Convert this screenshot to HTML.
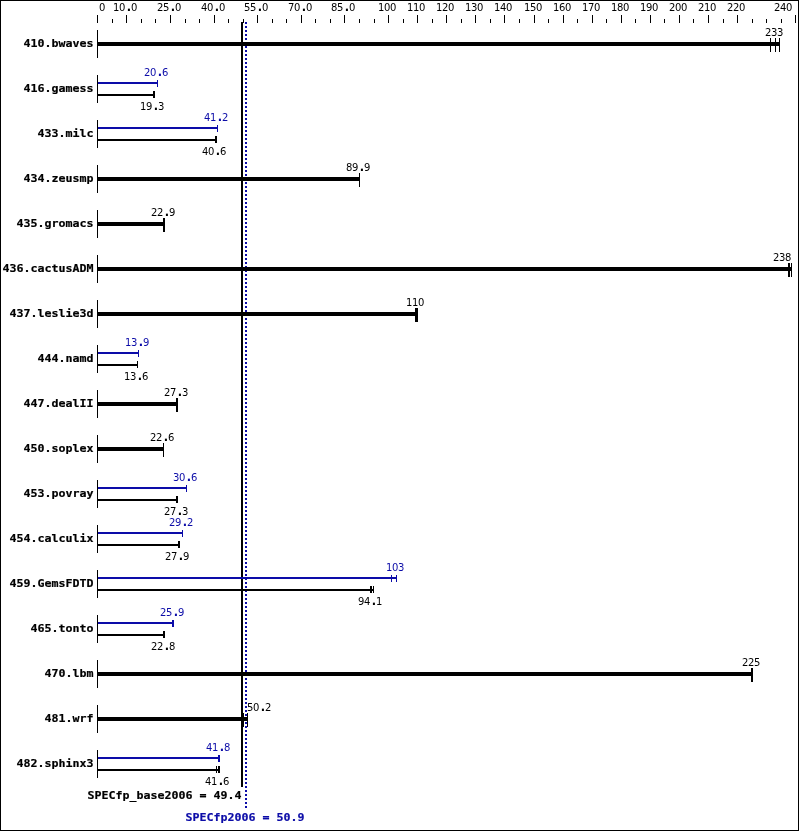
<!DOCTYPE html>
<html><head><meta charset="utf-8"><title>SPECfp2006 results graph</title>
<style>
html,body{margin:0;padding:0;background:#fff}
svg{display:block}
text{fill:#000;white-space:pre}
text.s{font-family:"DejaVu Sans","Liberation Sans",sans-serif;font-size:10px}
tspan.d{font-weight:bold;font-size:11.4px}
text.b{font-family:"DejaVu Sans Mono","Liberation Mono",monospace;font-size:11px;font-weight:bold;stroke:#000;stroke-width:.2px}
rect{shape-rendering:crispEdges}
</style></head><body>
<svg width="799" height="831" viewBox="0 0 799 831">
<rect x="0" y="0" width="799" height="831" fill="#fff"/>
<rect x="0" y="0" width="799" height="1" fill="#000"/>
<rect x="0" y="830" width="799" height="1" fill="#000"/>
<rect x="0" y="0" width="1" height="831" fill="#000"/>
<rect x="798" y="0" width="1" height="831" fill="#000"/>
<rect x="97" y="15" width="1" height="8" fill="#000"/>
<rect x="112" y="19" width="1" height="4" fill="#000"/>
<rect x="126" y="15" width="1" height="8" fill="#000"/>
<rect x="141" y="19" width="1" height="4" fill="#000"/>
<rect x="155" y="19" width="1" height="4" fill="#000"/>
<rect x="170" y="15" width="1" height="8" fill="#000"/>
<rect x="185" y="19" width="1" height="4" fill="#000"/>
<rect x="199" y="19" width="1" height="4" fill="#000"/>
<rect x="214" y="15" width="1" height="8" fill="#000"/>
<rect x="228" y="19" width="1" height="4" fill="#000"/>
<rect x="243" y="19" width="1" height="4" fill="#000"/>
<rect x="257" y="15" width="1" height="8" fill="#000"/>
<rect x="272" y="19" width="1" height="4" fill="#000"/>
<rect x="286" y="19" width="1" height="4" fill="#000"/>
<rect x="301" y="15" width="1" height="8" fill="#000"/>
<rect x="315" y="19" width="1" height="4" fill="#000"/>
<rect x="330" y="19" width="1" height="4" fill="#000"/>
<rect x="344" y="15" width="1" height="8" fill="#000"/>
<rect x="359" y="19" width="1" height="4" fill="#000"/>
<rect x="374" y="19" width="1" height="4" fill="#000"/>
<rect x="388" y="15" width="1" height="8" fill="#000"/>
<rect x="403" y="19" width="1" height="4" fill="#000"/>
<rect x="417" y="15" width="1" height="8" fill="#000"/>
<rect x="432" y="19" width="1" height="4" fill="#000"/>
<rect x="446" y="15" width="1" height="8" fill="#000"/>
<rect x="461" y="19" width="1" height="4" fill="#000"/>
<rect x="475" y="15" width="1" height="8" fill="#000"/>
<rect x="490" y="19" width="1" height="4" fill="#000"/>
<rect x="504" y="15" width="1" height="8" fill="#000"/>
<rect x="519" y="19" width="1" height="4" fill="#000"/>
<rect x="534" y="15" width="1" height="8" fill="#000"/>
<rect x="548" y="19" width="1" height="4" fill="#000"/>
<rect x="563" y="15" width="1" height="8" fill="#000"/>
<rect x="577" y="19" width="1" height="4" fill="#000"/>
<rect x="592" y="15" width="1" height="8" fill="#000"/>
<rect x="606" y="19" width="1" height="4" fill="#000"/>
<rect x="621" y="15" width="1" height="8" fill="#000"/>
<rect x="635" y="19" width="1" height="4" fill="#000"/>
<rect x="650" y="15" width="1" height="8" fill="#000"/>
<rect x="664" y="19" width="1" height="4" fill="#000"/>
<rect x="679" y="15" width="1" height="8" fill="#000"/>
<rect x="693" y="19" width="1" height="4" fill="#000"/>
<rect x="708" y="15" width="1" height="8" fill="#000"/>
<rect x="723" y="19" width="1" height="4" fill="#000"/>
<rect x="737" y="15" width="1" height="8" fill="#000"/>
<rect x="752" y="19" width="1" height="4" fill="#000"/>
<rect x="766" y="19" width="1" height="4" fill="#000"/>
<rect x="781" y="19" width="1" height="4" fill="#000"/>
<rect x="795" y="15" width="1" height="8" fill="#000"/>
<text class="s" x="99" y="11">0</text>
<text class="s" x="113 119 126.84 131" y="11">10<tspan class="d">.</tspan>0</text>
<text class="s" x="157 163 170.84 175" y="11">25<tspan class="d">.</tspan>0</text>
<text class="s" x="201 207 214.84 219" y="11">40<tspan class="d">.</tspan>0</text>
<text class="s" x="244 250 257.84 262" y="11">55<tspan class="d">.</tspan>0</text>
<text class="s" x="288 294 301.84 306" y="11">70<tspan class="d">.</tspan>0</text>
<text class="s" x="331 337 344.84 349" y="11">85<tspan class="d">.</tspan>0</text>
<text class="s" x="378 384 390" y="11">100</text>
<text class="s" x="407 413 419" y="11">110</text>
<text class="s" x="436 442 448" y="11">120</text>
<text class="s" x="465 471 477" y="11">130</text>
<text class="s" x="494 500 506" y="11">140</text>
<text class="s" x="524 530 536" y="11">150</text>
<text class="s" x="553 559 565" y="11">160</text>
<text class="s" x="582 588 594" y="11">170</text>
<text class="s" x="611 617 623" y="11">180</text>
<text class="s" x="640 646 652" y="11">190</text>
<text class="s" x="669 675 681" y="11">200</text>
<text class="s" x="698 704 710" y="11">210</text>
<text class="s" x="727 733 739" y="11">220</text>
<text class="s" x="774 780 786" y="11">240</text>
<rect x="245" y="22" width="2" height="2" fill="#0c0ca8"/>
<rect x="245" y="26" width="2" height="2" fill="#0c0ca8"/>
<rect x="245" y="30" width="2" height="2" fill="#0c0ca8"/>
<rect x="245" y="34" width="2" height="2" fill="#0c0ca8"/>
<rect x="245" y="38" width="2" height="2" fill="#0c0ca8"/>
<rect x="245" y="42" width="2" height="2" fill="#0c0ca8"/>
<rect x="245" y="46" width="2" height="2" fill="#0c0ca8"/>
<rect x="245" y="50" width="2" height="2" fill="#0c0ca8"/>
<rect x="245" y="54" width="2" height="2" fill="#0c0ca8"/>
<rect x="245" y="58" width="2" height="2" fill="#0c0ca8"/>
<rect x="245" y="62" width="2" height="2" fill="#0c0ca8"/>
<rect x="245" y="66" width="2" height="2" fill="#0c0ca8"/>
<rect x="245" y="70" width="2" height="2" fill="#0c0ca8"/>
<rect x="245" y="74" width="2" height="2" fill="#0c0ca8"/>
<rect x="245" y="78" width="2" height="2" fill="#0c0ca8"/>
<rect x="245" y="82" width="2" height="2" fill="#0c0ca8"/>
<rect x="245" y="86" width="2" height="2" fill="#0c0ca8"/>
<rect x="245" y="90" width="2" height="2" fill="#0c0ca8"/>
<rect x="245" y="94" width="2" height="2" fill="#0c0ca8"/>
<rect x="245" y="98" width="2" height="2" fill="#0c0ca8"/>
<rect x="245" y="102" width="2" height="2" fill="#0c0ca8"/>
<rect x="245" y="106" width="2" height="2" fill="#0c0ca8"/>
<rect x="245" y="110" width="2" height="2" fill="#0c0ca8"/>
<rect x="245" y="114" width="2" height="2" fill="#0c0ca8"/>
<rect x="245" y="118" width="2" height="2" fill="#0c0ca8"/>
<rect x="245" y="122" width="2" height="2" fill="#0c0ca8"/>
<rect x="245" y="126" width="2" height="2" fill="#0c0ca8"/>
<rect x="245" y="130" width="2" height="2" fill="#0c0ca8"/>
<rect x="245" y="134" width="2" height="2" fill="#0c0ca8"/>
<rect x="245" y="138" width="2" height="2" fill="#0c0ca8"/>
<rect x="245" y="142" width="2" height="2" fill="#0c0ca8"/>
<rect x="245" y="146" width="2" height="2" fill="#0c0ca8"/>
<rect x="245" y="150" width="2" height="2" fill="#0c0ca8"/>
<rect x="245" y="154" width="2" height="2" fill="#0c0ca8"/>
<rect x="245" y="158" width="2" height="2" fill="#0c0ca8"/>
<rect x="245" y="162" width="2" height="2" fill="#0c0ca8"/>
<rect x="245" y="166" width="2" height="2" fill="#0c0ca8"/>
<rect x="245" y="170" width="2" height="2" fill="#0c0ca8"/>
<rect x="245" y="174" width="2" height="2" fill="#0c0ca8"/>
<rect x="245" y="178" width="2" height="2" fill="#0c0ca8"/>
<rect x="245" y="182" width="2" height="2" fill="#0c0ca8"/>
<rect x="245" y="186" width="2" height="2" fill="#0c0ca8"/>
<rect x="245" y="190" width="2" height="2" fill="#0c0ca8"/>
<rect x="245" y="194" width="2" height="2" fill="#0c0ca8"/>
<rect x="245" y="198" width="2" height="2" fill="#0c0ca8"/>
<rect x="245" y="202" width="2" height="2" fill="#0c0ca8"/>
<rect x="245" y="206" width="2" height="2" fill="#0c0ca8"/>
<rect x="245" y="210" width="2" height="2" fill="#0c0ca8"/>
<rect x="245" y="214" width="2" height="2" fill="#0c0ca8"/>
<rect x="245" y="218" width="2" height="2" fill="#0c0ca8"/>
<rect x="245" y="222" width="2" height="2" fill="#0c0ca8"/>
<rect x="245" y="226" width="2" height="2" fill="#0c0ca8"/>
<rect x="245" y="230" width="2" height="2" fill="#0c0ca8"/>
<rect x="245" y="234" width="2" height="2" fill="#0c0ca8"/>
<rect x="245" y="238" width="2" height="2" fill="#0c0ca8"/>
<rect x="245" y="242" width="2" height="2" fill="#0c0ca8"/>
<rect x="245" y="246" width="2" height="2" fill="#0c0ca8"/>
<rect x="245" y="250" width="2" height="2" fill="#0c0ca8"/>
<rect x="245" y="254" width="2" height="2" fill="#0c0ca8"/>
<rect x="245" y="258" width="2" height="2" fill="#0c0ca8"/>
<rect x="245" y="262" width="2" height="2" fill="#0c0ca8"/>
<rect x="245" y="266" width="2" height="2" fill="#0c0ca8"/>
<rect x="245" y="270" width="2" height="2" fill="#0c0ca8"/>
<rect x="245" y="274" width="2" height="2" fill="#0c0ca8"/>
<rect x="245" y="278" width="2" height="2" fill="#0c0ca8"/>
<rect x="245" y="282" width="2" height="2" fill="#0c0ca8"/>
<rect x="245" y="286" width="2" height="2" fill="#0c0ca8"/>
<rect x="245" y="290" width="2" height="2" fill="#0c0ca8"/>
<rect x="245" y="294" width="2" height="2" fill="#0c0ca8"/>
<rect x="245" y="298" width="2" height="2" fill="#0c0ca8"/>
<rect x="245" y="302" width="2" height="2" fill="#0c0ca8"/>
<rect x="245" y="306" width="2" height="2" fill="#0c0ca8"/>
<rect x="245" y="310" width="2" height="2" fill="#0c0ca8"/>
<rect x="245" y="314" width="2" height="2" fill="#0c0ca8"/>
<rect x="245" y="318" width="2" height="2" fill="#0c0ca8"/>
<rect x="245" y="322" width="2" height="2" fill="#0c0ca8"/>
<rect x="245" y="326" width="2" height="2" fill="#0c0ca8"/>
<rect x="245" y="330" width="2" height="2" fill="#0c0ca8"/>
<rect x="245" y="334" width="2" height="2" fill="#0c0ca8"/>
<rect x="245" y="338" width="2" height="2" fill="#0c0ca8"/>
<rect x="245" y="342" width="2" height="2" fill="#0c0ca8"/>
<rect x="245" y="346" width="2" height="2" fill="#0c0ca8"/>
<rect x="245" y="350" width="2" height="2" fill="#0c0ca8"/>
<rect x="245" y="354" width="2" height="2" fill="#0c0ca8"/>
<rect x="245" y="358" width="2" height="2" fill="#0c0ca8"/>
<rect x="245" y="362" width="2" height="2" fill="#0c0ca8"/>
<rect x="245" y="366" width="2" height="2" fill="#0c0ca8"/>
<rect x="245" y="370" width="2" height="2" fill="#0c0ca8"/>
<rect x="245" y="374" width="2" height="2" fill="#0c0ca8"/>
<rect x="245" y="378" width="2" height="2" fill="#0c0ca8"/>
<rect x="245" y="382" width="2" height="2" fill="#0c0ca8"/>
<rect x="245" y="386" width="2" height="2" fill="#0c0ca8"/>
<rect x="245" y="390" width="2" height="2" fill="#0c0ca8"/>
<rect x="245" y="394" width="2" height="2" fill="#0c0ca8"/>
<rect x="245" y="398" width="2" height="2" fill="#0c0ca8"/>
<rect x="245" y="402" width="2" height="2" fill="#0c0ca8"/>
<rect x="245" y="406" width="2" height="2" fill="#0c0ca8"/>
<rect x="245" y="410" width="2" height="2" fill="#0c0ca8"/>
<rect x="245" y="414" width="2" height="2" fill="#0c0ca8"/>
<rect x="245" y="418" width="2" height="2" fill="#0c0ca8"/>
<rect x="245" y="422" width="2" height="2" fill="#0c0ca8"/>
<rect x="245" y="426" width="2" height="2" fill="#0c0ca8"/>
<rect x="245" y="430" width="2" height="2" fill="#0c0ca8"/>
<rect x="245" y="434" width="2" height="2" fill="#0c0ca8"/>
<rect x="245" y="438" width="2" height="2" fill="#0c0ca8"/>
<rect x="245" y="442" width="2" height="2" fill="#0c0ca8"/>
<rect x="245" y="446" width="2" height="2" fill="#0c0ca8"/>
<rect x="245" y="450" width="2" height="2" fill="#0c0ca8"/>
<rect x="245" y="454" width="2" height="2" fill="#0c0ca8"/>
<rect x="245" y="458" width="2" height="2" fill="#0c0ca8"/>
<rect x="245" y="462" width="2" height="2" fill="#0c0ca8"/>
<rect x="245" y="466" width="2" height="2" fill="#0c0ca8"/>
<rect x="245" y="470" width="2" height="2" fill="#0c0ca8"/>
<rect x="245" y="474" width="2" height="2" fill="#0c0ca8"/>
<rect x="245" y="478" width="2" height="2" fill="#0c0ca8"/>
<rect x="245" y="482" width="2" height="2" fill="#0c0ca8"/>
<rect x="245" y="486" width="2" height="2" fill="#0c0ca8"/>
<rect x="245" y="490" width="2" height="2" fill="#0c0ca8"/>
<rect x="245" y="494" width="2" height="2" fill="#0c0ca8"/>
<rect x="245" y="498" width="2" height="2" fill="#0c0ca8"/>
<rect x="245" y="502" width="2" height="2" fill="#0c0ca8"/>
<rect x="245" y="506" width="2" height="2" fill="#0c0ca8"/>
<rect x="245" y="510" width="2" height="2" fill="#0c0ca8"/>
<rect x="245" y="514" width="2" height="2" fill="#0c0ca8"/>
<rect x="245" y="518" width="2" height="2" fill="#0c0ca8"/>
<rect x="245" y="522" width="2" height="2" fill="#0c0ca8"/>
<rect x="245" y="526" width="2" height="2" fill="#0c0ca8"/>
<rect x="245" y="530" width="2" height="2" fill="#0c0ca8"/>
<rect x="245" y="534" width="2" height="2" fill="#0c0ca8"/>
<rect x="245" y="538" width="2" height="2" fill="#0c0ca8"/>
<rect x="245" y="542" width="2" height="2" fill="#0c0ca8"/>
<rect x="245" y="546" width="2" height="2" fill="#0c0ca8"/>
<rect x="245" y="550" width="2" height="2" fill="#0c0ca8"/>
<rect x="245" y="554" width="2" height="2" fill="#0c0ca8"/>
<rect x="245" y="558" width="2" height="2" fill="#0c0ca8"/>
<rect x="245" y="562" width="2" height="2" fill="#0c0ca8"/>
<rect x="245" y="566" width="2" height="2" fill="#0c0ca8"/>
<rect x="245" y="570" width="2" height="2" fill="#0c0ca8"/>
<rect x="245" y="574" width="2" height="2" fill="#0c0ca8"/>
<rect x="245" y="578" width="2" height="2" fill="#0c0ca8"/>
<rect x="245" y="582" width="2" height="2" fill="#0c0ca8"/>
<rect x="245" y="586" width="2" height="2" fill="#0c0ca8"/>
<rect x="245" y="590" width="2" height="2" fill="#0c0ca8"/>
<rect x="245" y="594" width="2" height="2" fill="#0c0ca8"/>
<rect x="245" y="598" width="2" height="2" fill="#0c0ca8"/>
<rect x="245" y="602" width="2" height="2" fill="#0c0ca8"/>
<rect x="245" y="606" width="2" height="2" fill="#0c0ca8"/>
<rect x="245" y="610" width="2" height="2" fill="#0c0ca8"/>
<rect x="245" y="614" width="2" height="2" fill="#0c0ca8"/>
<rect x="245" y="618" width="2" height="2" fill="#0c0ca8"/>
<rect x="245" y="622" width="2" height="2" fill="#0c0ca8"/>
<rect x="245" y="626" width="2" height="2" fill="#0c0ca8"/>
<rect x="245" y="630" width="2" height="2" fill="#0c0ca8"/>
<rect x="245" y="634" width="2" height="2" fill="#0c0ca8"/>
<rect x="245" y="638" width="2" height="2" fill="#0c0ca8"/>
<rect x="245" y="642" width="2" height="2" fill="#0c0ca8"/>
<rect x="245" y="646" width="2" height="2" fill="#0c0ca8"/>
<rect x="245" y="650" width="2" height="2" fill="#0c0ca8"/>
<rect x="245" y="654" width="2" height="2" fill="#0c0ca8"/>
<rect x="245" y="658" width="2" height="2" fill="#0c0ca8"/>
<rect x="245" y="662" width="2" height="2" fill="#0c0ca8"/>
<rect x="245" y="666" width="2" height="2" fill="#0c0ca8"/>
<rect x="245" y="670" width="2" height="2" fill="#0c0ca8"/>
<rect x="245" y="674" width="2" height="2" fill="#0c0ca8"/>
<rect x="245" y="678" width="2" height="2" fill="#0c0ca8"/>
<rect x="245" y="682" width="2" height="2" fill="#0c0ca8"/>
<rect x="245" y="686" width="2" height="2" fill="#0c0ca8"/>
<rect x="245" y="690" width="2" height="2" fill="#0c0ca8"/>
<rect x="245" y="694" width="2" height="2" fill="#0c0ca8"/>
<rect x="245" y="698" width="2" height="2" fill="#0c0ca8"/>
<rect x="245" y="702" width="2" height="2" fill="#0c0ca8"/>
<rect x="245" y="706" width="2" height="2" fill="#0c0ca8"/>
<rect x="245" y="710" width="2" height="2" fill="#0c0ca8"/>
<rect x="245" y="714" width="2" height="2" fill="#0c0ca8"/>
<rect x="245" y="718" width="2" height="2" fill="#0c0ca8"/>
<rect x="245" y="722" width="2" height="2" fill="#0c0ca8"/>
<rect x="245" y="726" width="2" height="2" fill="#0c0ca8"/>
<rect x="245" y="730" width="2" height="2" fill="#0c0ca8"/>
<rect x="245" y="734" width="2" height="2" fill="#0c0ca8"/>
<rect x="245" y="738" width="2" height="2" fill="#0c0ca8"/>
<rect x="245" y="742" width="2" height="2" fill="#0c0ca8"/>
<rect x="245" y="746" width="2" height="2" fill="#0c0ca8"/>
<rect x="245" y="750" width="2" height="2" fill="#0c0ca8"/>
<rect x="245" y="754" width="2" height="2" fill="#0c0ca8"/>
<rect x="245" y="758" width="2" height="2" fill="#0c0ca8"/>
<rect x="245" y="762" width="2" height="2" fill="#0c0ca8"/>
<rect x="245" y="766" width="2" height="2" fill="#0c0ca8"/>
<rect x="245" y="770" width="2" height="2" fill="#0c0ca8"/>
<rect x="245" y="774" width="2" height="2" fill="#0c0ca8"/>
<rect x="245" y="778" width="2" height="2" fill="#0c0ca8"/>
<rect x="245" y="782" width="2" height="2" fill="#0c0ca8"/>
<rect x="245" y="786" width="2" height="2" fill="#0c0ca8"/>
<rect x="245" y="790" width="2" height="2" fill="#0c0ca8"/>
<rect x="245" y="794" width="2" height="2" fill="#0c0ca8"/>
<rect x="245" y="798" width="2" height="2" fill="#0c0ca8"/>
<rect x="245" y="802" width="2" height="2" fill="#0c0ca8"/>
<rect x="245" y="806" width="2" height="2" fill="#0c0ca8"/>
<rect x="241" y="22" width="2" height="765" fill="#000"/>
<rect x="97" y="30" width="1" height="28" fill="#000"/>
<text class="b" x="23.5" y="47" textLength="70" lengthAdjust="spacingAndGlyphs">410.bwaves</text>
<rect x="98" y="42" width="682" height="4" fill="#000"/>
<rect x="770" y="38" width="1" height="14" fill="#000"/>
<rect x="775" y="38" width="1" height="14" fill="#000"/>
<rect x="779" y="38" width="1" height="14" fill="#000"/>
<text class="s" x="765 771 777" y="36">233</text>
<rect x="97" y="75" width="1" height="28" fill="#000"/>
<text class="b" x="23.5" y="92" textLength="70" lengthAdjust="spacingAndGlyphs">416.gamess</text>
<rect x="98" y="82" width="60" height="2" fill="#0c0ca8"/>
<rect x="157" y="80" width="1" height="7" fill="#0c0ca8"/>
<text class="s" x="144 150 157.84 162" y="76" style="fill:#0c0ca8">20<tspan class="d">.</tspan>6</text>
<rect x="98" y="94" width="57" height="2" fill="#000"/>
<rect x="153" y="91" width="2" height="7" fill="#000"/>
<text class="s" x="140 146 153.84 158" y="110">19<tspan class="d">.</tspan>3</text>
<rect x="97" y="120" width="1" height="28" fill="#000"/>
<text class="b" x="37.5" y="137" textLength="56" lengthAdjust="spacingAndGlyphs">433.milc</text>
<rect x="98" y="127" width="120" height="2" fill="#0c0ca8"/>
<rect x="217" y="125" width="1" height="7" fill="#0c0ca8"/>
<text class="s" x="204 210 217.84 222" y="121" style="fill:#0c0ca8">41<tspan class="d">.</tspan>2</text>
<rect x="98" y="139" width="119" height="2" fill="#000"/>
<rect x="215" y="136" width="2" height="7" fill="#000"/>
<text class="s" x="202 208 215.84 220" y="155">40<tspan class="d">.</tspan>6</text>
<rect x="97" y="165" width="1" height="28" fill="#000"/>
<text class="b" x="23.5" y="182" textLength="70" lengthAdjust="spacingAndGlyphs">434.zeusmp</text>
<rect x="98" y="177" width="262" height="4" fill="#000"/>
<rect x="359" y="173" width="1" height="14" fill="#000"/>
<text class="s" x="346 352 359.84 364" y="171">89<tspan class="d">.</tspan>9</text>
<rect x="97" y="210" width="1" height="28" fill="#000"/>
<text class="b" x="16.5" y="227" textLength="77" lengthAdjust="spacingAndGlyphs">435.gromacs</text>
<rect x="98" y="222" width="67" height="4" fill="#000"/>
<rect x="163" y="218" width="2" height="14" fill="#000"/>
<text class="s" x="151 157 164.84 169" y="216">22<tspan class="d">.</tspan>9</text>
<rect x="97" y="255" width="1" height="28" fill="#000"/>
<text class="b" x="2.5" y="272" textLength="91" lengthAdjust="spacingAndGlyphs">436.cactusADM</text>
<rect x="98" y="267" width="694" height="4" fill="#000"/>
<rect x="788" y="263" width="2" height="14" fill="#000"/>
<rect x="791" y="263" width="1" height="14" fill="#000"/>
<text class="s" x="773 779 785" y="261">238</text>
<rect x="97" y="300" width="1" height="28" fill="#000"/>
<text class="b" x="9.5" y="317" textLength="84" lengthAdjust="spacingAndGlyphs">437.leslie3d</text>
<rect x="98" y="312" width="320" height="4" fill="#000"/>
<rect x="415" y="308" width="3" height="14" fill="#000"/>
<text class="s" x="406 412 418" y="306">110</text>
<rect x="97" y="345" width="1" height="28" fill="#000"/>
<text class="b" x="37.5" y="362" textLength="56" lengthAdjust="spacingAndGlyphs">444.namd</text>
<rect x="98" y="352" width="41" height="2" fill="#0c0ca8"/>
<rect x="138" y="350" width="1" height="7" fill="#0c0ca8"/>
<text class="s" x="125 131 138.84 143" y="346" style="fill:#0c0ca8">13<tspan class="d">.</tspan>9</text>
<rect x="98" y="364" width="40" height="2" fill="#000"/>
<rect x="137" y="361" width="1" height="7" fill="#000"/>
<text class="s" x="124 130 137.84 142" y="380">13<tspan class="d">.</tspan>6</text>
<rect x="97" y="390" width="1" height="28" fill="#000"/>
<text class="b" x="23.5" y="407" textLength="70" lengthAdjust="spacingAndGlyphs">447.dealII</text>
<rect x="98" y="402" width="80" height="4" fill="#000"/>
<rect x="176" y="398" width="2" height="14" fill="#000"/>
<text class="s" x="164 170 177.84 182" y="396">27<tspan class="d">.</tspan>3</text>
<rect x="97" y="435" width="1" height="28" fill="#000"/>
<text class="b" x="23.5" y="452" textLength="70" lengthAdjust="spacingAndGlyphs">450.soplex</text>
<rect x="98" y="447" width="66" height="4" fill="#000"/>
<rect x="163" y="443" width="1" height="14" fill="#000"/>
<text class="s" x="150 156 163.84 168" y="441">22<tspan class="d">.</tspan>6</text>
<rect x="97" y="480" width="1" height="28" fill="#000"/>
<text class="b" x="23.5" y="497" textLength="70" lengthAdjust="spacingAndGlyphs">453.povray</text>
<rect x="98" y="487" width="89" height="2" fill="#0c0ca8"/>
<rect x="186" y="485" width="1" height="7" fill="#0c0ca8"/>
<text class="s" x="173 179 186.84 191" y="481" style="fill:#0c0ca8">30<tspan class="d">.</tspan>6</text>
<rect x="98" y="499" width="80" height="2" fill="#000"/>
<rect x="176" y="496" width="2" height="7" fill="#000"/>
<text class="s" x="164 170 177.84 182" y="515">27<tspan class="d">.</tspan>3</text>
<rect x="97" y="525" width="1" height="28" fill="#000"/>
<text class="b" x="9.5" y="542" textLength="84" lengthAdjust="spacingAndGlyphs">454.calculix</text>
<rect x="98" y="532" width="85" height="2" fill="#0c0ca8"/>
<rect x="182" y="530" width="1" height="7" fill="#0c0ca8"/>
<text class="s" x="169 175 182.84 187" y="526" style="fill:#0c0ca8">29<tspan class="d">.</tspan>2</text>
<rect x="98" y="544" width="82" height="2" fill="#000"/>
<rect x="178" y="541" width="2" height="7" fill="#000"/>
<text class="s" x="165 171 178.84 183" y="560">27<tspan class="d">.</tspan>9</text>
<rect x="97" y="570" width="1" height="28" fill="#000"/>
<text class="b" x="9.5" y="587" textLength="84" lengthAdjust="spacingAndGlyphs">459.GemsFDTD</text>
<rect x="98" y="577" width="299" height="2" fill="#0c0ca8"/>
<rect x="391" y="575" width="1" height="7" fill="#0c0ca8"/>
<rect x="396" y="575" width="1" height="7" fill="#0c0ca8"/>
<text class="s" x="386 392 398" y="571" style="fill:#0c0ca8">103</text>
<rect x="98" y="589" width="276" height="2" fill="#000"/>
<rect x="370" y="586" width="2" height="7" fill="#000"/>
<rect x="373" y="586" width="1" height="7" fill="#000"/>
<text class="s" x="358 364 371.84 376" y="605">94<tspan class="d">.</tspan>1</text>
<rect x="97" y="615" width="1" height="28" fill="#000"/>
<text class="b" x="30.5" y="632" textLength="63" lengthAdjust="spacingAndGlyphs">465.tonto</text>
<rect x="98" y="622" width="76" height="2" fill="#0c0ca8"/>
<rect x="172" y="620" width="2" height="7" fill="#0c0ca8"/>
<text class="s" x="160 166 173.84 178" y="616" style="fill:#0c0ca8">25<tspan class="d">.</tspan>9</text>
<rect x="98" y="634" width="67" height="2" fill="#000"/>
<rect x="163" y="631" width="2" height="7" fill="#000"/>
<text class="s" x="151 157 164.84 169" y="650">22<tspan class="d">.</tspan>8</text>
<rect x="97" y="660" width="1" height="28" fill="#000"/>
<text class="b" x="44.5" y="677" textLength="49" lengthAdjust="spacingAndGlyphs">470.lbm</text>
<rect x="98" y="672" width="655" height="4" fill="#000"/>
<rect x="751" y="668" width="2" height="14" fill="#000"/>
<text class="s" x="742 748 754" y="666">225</text>
<rect x="97" y="705" width="1" height="28" fill="#000"/>
<text class="b" x="44.5" y="722" textLength="49" lengthAdjust="spacingAndGlyphs">481.wrf</text>
<rect x="98" y="717" width="150" height="4" fill="#000"/>
<rect x="242" y="713" width="2" height="14" fill="#000"/>
<rect x="247" y="713" width="1" height="14" fill="#000"/>
<text class="s" x="247 253 260.84 265" y="711">50<tspan class="d">.</tspan>2</text>
<rect x="97" y="750" width="1" height="28" fill="#000"/>
<text class="b" x="16.5" y="767" textLength="77" lengthAdjust="spacingAndGlyphs">482.sphinx3</text>
<rect x="98" y="757" width="122" height="2" fill="#0c0ca8"/>
<rect x="218" y="755" width="2" height="7" fill="#0c0ca8"/>
<text class="s" x="206 212 219.84 224" y="751" style="fill:#0c0ca8">41<tspan class="d">.</tspan>8</text>
<rect x="98" y="769" width="122" height="2" fill="#000"/>
<rect x="216" y="766" width="1" height="7" fill="#000"/>
<rect x="218" y="766" width="2" height="7" fill="#000"/>
<text class="s" x="205 211 218.84 223" y="785">41<tspan class="d">.</tspan>6</text>
<text class="b" x="87.5" y="799" textLength="154" lengthAdjust="spacingAndGlyphs">SPECfp_base2006 = 49.4</text>
<text class="b" x="185.5" y="821" textLength="119" lengthAdjust="spacingAndGlyphs" style="fill:#0c0ca8;stroke:#0c0ca8">SPECfp2006 = 50.9</text>
</svg>
</body></html>
